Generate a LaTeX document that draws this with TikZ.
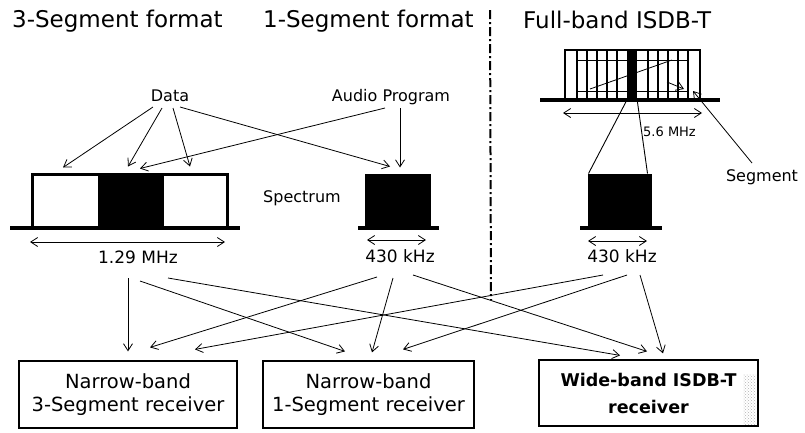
\documentclass[tikz,border=0pt]{standalone}
\usepackage{fontspec}
\setmainfont{DejaVu Sans}
\usetikzlibrary{arrows.meta,calc,patterns}

\begin{document}
\begin{tikzpicture}[x=1pt,y=-1pt,
  conn/.style={line width=0.8pt,-{Straight Barb[length=7pt,width=9pt]}},
  dimline/.style={line width=0.8pt,{Straight Barb[length=7pt,width=9pt]}-{Straight Barb[length=7pt,width=9pt]}},
  title/.style={font=\fontsize{23}{26}\selectfont, anchor=base west, inner sep=0},
  lbl/.style={font=\fontsize{16}{19}\selectfont, inner sep=0},
  bw/.style={font=\fontsize{17}{19}\selectfont, inner sep=0},
  rx/.style={draw, line width=1.2pt, align=center, inner sep=0, font=\fontsize{19.5}{23}\selectfont},
  baseln/.style={line width=3.5pt},
  blk/.style={draw, line width=3pt, inner sep=0},
  solid blk/.style={fill=black, draw, line width=1pt, inner sep=0},
]
\useasboundingbox (0,0) rectangle (805,432);

% headings
\node[title] (h3) at (12,27) {3-Segment format};
\node[title] (h1) at (263,27) {1-Segment format};
\node[title] (hf) at (523,28) {Full-band ISDB-T};

% separator between the narrow-band and full-band halves
\draw[line width=2pt, dash pattern=on 9pt off 3pt on 2pt off 3pt] (490,10) -- (491,300);

% sources
\node[lbl] (data) at (170,96) {Data};
\node[lbl] (audio) at (391,97) {Audio Program};
\node[lbl] (spec) at (302,198) {Spectrum};

% 3-segment spectrum
\node[blk, minimum width=195, minimum height=54] (seg3) at (129.5,201) {};
\fill (98,174) rectangle (164,228);
\draw[baseln] (10,228) -- (240,228);
\draw[dimline] (30,242) -- (225,242);
\node[bw] (m1) at (138,257) {1.29 MHz};

% 1-segment spectrum
\node[solid blk, minimum width=65, minimum height=54] (seg1) at (397.5,201) {};
\draw[baseln] (358,228) -- (439,228);
\draw[dimline] (367,240) -- (426,240);
\node[bw] (k1) at (400,256) {430 kHz};

% full-band spectrum with 13 segments
\draw[line width=2pt] (565,100) -- (565,50) -- (700,50) -- (700,100);
\foreach \x in {577,587,597,607,617,648,658,668,678,688}
  \draw[line width=1.3pt] (\x,50) -- (\x,100);
\draw[line width=1pt] (577,60) -- (688,60) (577,91) -- (688,91);
\node[fill=black, minimum width=10, minimum height=50, inner sep=0] (mid) at (632,75) {};
\draw[baseln] (540,100) -- (720,100);
\draw[line width=0.8pt] (590,89) -- (672,60);
\draw[conn] (667,82) -- (684,89);
\draw[dimline] (563,113) -- (702,113);
\node[font=\fontsize{13}{15}\selectfont, inner sep=0, anchor=west] (w56) at (643,132) {5.6 MHz};
\node[lbl] (segm) at (762,177) {Segment};
\coordinate (segtip) at (693,91);
\draw[conn] ($(segm.center)+(-10,-14)$) -- (segtip);

% extracted centre segment
\node[solid blk, minimum width=63, minimum height=54] (seg1b) at (619.5,201) {};
\draw[baseln] (580,228) -- (662,228);
\draw[line width=0.9pt] (mid.south west) -- ($(seg1b.north west)+(1,0)$);
\draw[line width=0.9pt] (mid.south east) -- ($(seg1b.north east)+(-4,0)$);
\draw[dimline] (588,241) -- (647,241);
\node[bw] (k2) at (622,256) {430 kHz};

% data and audio into the spectra
\draw[conn] ($(data.center)+(-17,11)$) -- ($(seg3.north)+(-66.5,-5)$);
\draw[conn] ($(data.center)+(-8,12)$) -- ($(seg3.north)+(-1.5,-6)$);
\draw[conn] ($(data.center)+(3,12)$) -- ($(seg3.north)+(60.5,-6)$);
\draw[conn] ($(data.center)+(10,11)$) -- ($(seg1.north)+(-7.5,-7)$);
\draw[conn] ($(audio.center)+(-6,11)$) -- ($(seg3.north)+(10.5,-4)$);
\draw[conn] ($(audio.center)+(9,11)$) -- ($(seg1.north)+(2.5,-6)$);

% receivers
\fill[pattern=crosshatch dots, pattern color=gray!60] (743,374) rectangle (756,425);
\node[rx, minimum width=218, minimum height=67] (r1) at (128,394.5) {Narrow-band\\3-Segment receiver};
\node[rx, minimum width=211, minimum height=67] (r2) at (368.5,394.5) {Narrow-band\\1-Segment receiver};
\node[rx, minimum width=219, minimum height=66, font=\bfseries\fontsize{17.5}{27}\selectfont] (r3) at (648.5,393) {Wide-band ISDB-T\\receiver};

% every format to every receiver
\draw[conn] ($(m1.center)+(-10,21)$) -- ($(r1.north)+(0,-9)$);
\draw[conn] ($(m1.center)+(2,24)$) -- ($(r2.north)+(-23.5,-9)$);
\draw[conn] ($(m1.center)+(30,21)$) -- ($(r3.north)+(-28.5,-4)$);
\draw[conn] ($(k1.center)+(-23,21)$) -- ($(r1.north)+(22,-13)$);
\draw[conn] ($(k1.center)+(-7,22)$) -- ($(r2.north)+(3.5,-8)$);
\draw[conn] ($(k1.center)+(13,19)$) -- ($(r3.north)+(-1.5,-8)$);
\draw[conn] ($(k2.center)+(-19,19)$) -- ($(r1.north)+(67,-11)$);
\draw[conn] ($(k2.center)+(5,19)$) -- ($(r2.north)+(34.5,-11)$);
\draw[conn] ($(k2.center)+(18,19)$) -- ($(r3.north)+(14.5,-6)$);
\end{tikzpicture}
\end{document}
